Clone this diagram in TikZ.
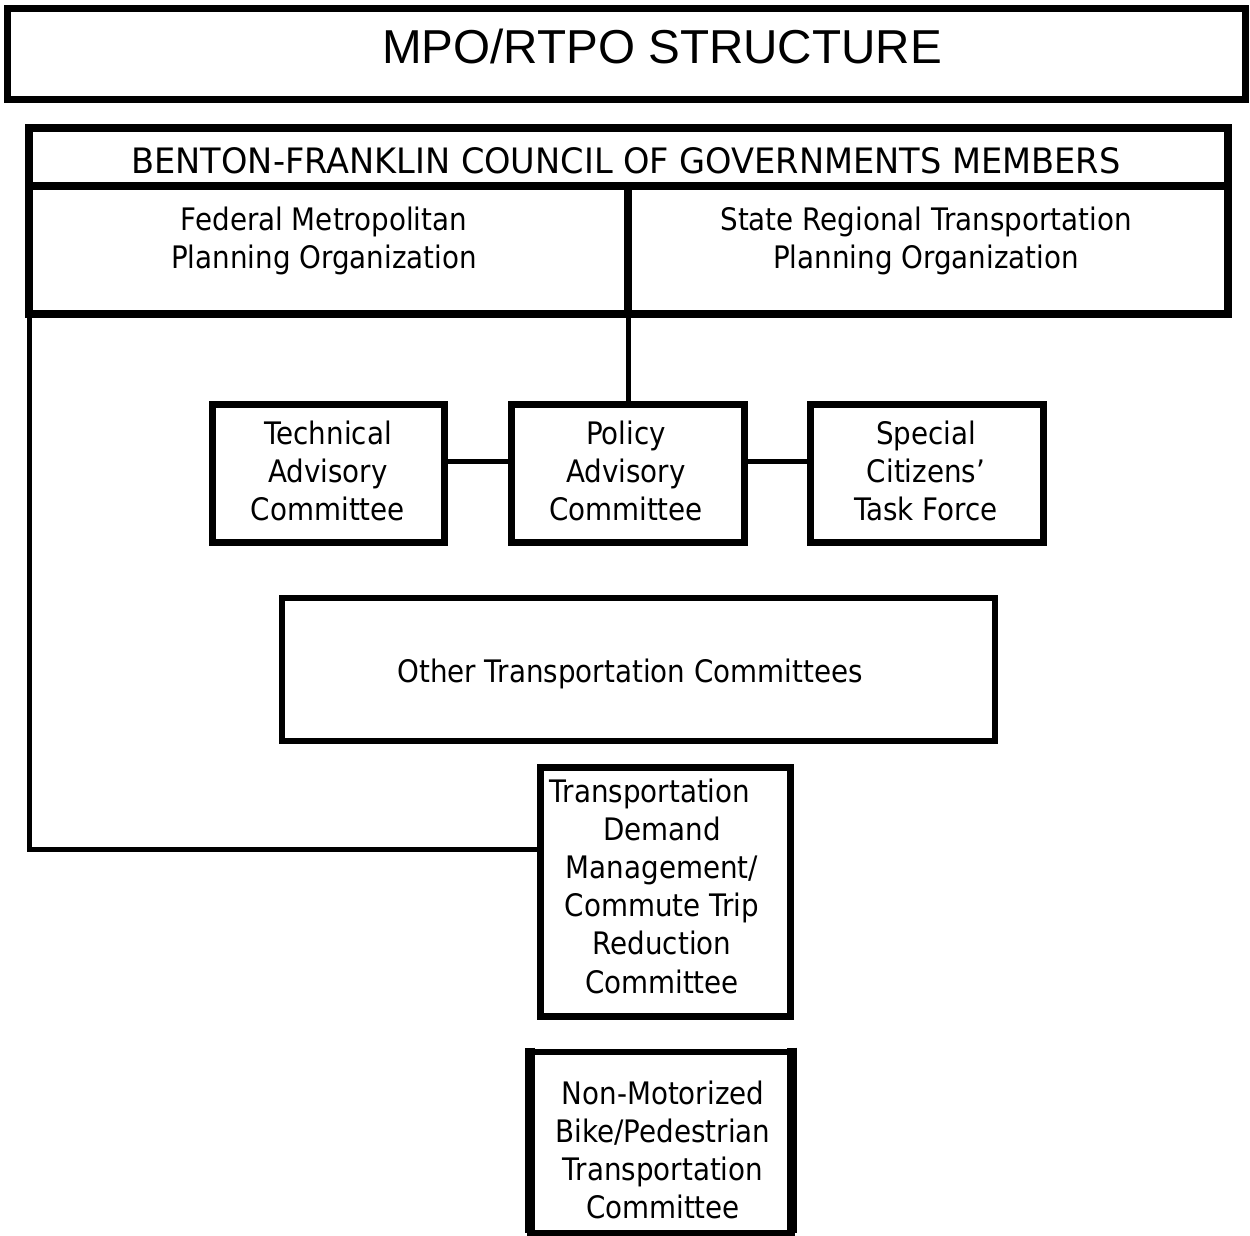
\documentclass[tikz,border=0pt]{standalone}
\usepackage{fontspec}
\setmainfont[FakeStretch=0.895]{DejaVu Sans}
\newfontfamily\hdrfont[FakeStretch=0.96]{DejaVu Sans}
\newfontfamily\titlefont{Liberation Sans}
\begin{document}
\begin{tikzpicture}[x=1pt,y=-1pt,
  box/.style={draw, rectangle, outer sep=0pt, inner sep=0pt},
  txt/.style={align=center, inner sep=0pt, font=\fontsize{31pt}{38pt}\selectfont},
  link/.style={line width=5pt}]
\useasboundingbox (0,0) rectangle (1250,1236);
% title
\node[box, line width=7pt, minimum width=1238pt, minimum height=91pt] (titlebox) at (626.5,54) {};
\node[anchor=base, inner sep=0pt, font=\titlefont\fontsize{47.6pt}{56pt}\selectfont] (titletext) at (662,63.5) {MPO/RTPO STRUCTURE};
% council
\node[box, line width=8pt, minimum width=1199pt, minimum height=58pt] (hdr) at (628.5,157) {};
\node[box, line width=8pt, minimum width=599pt, minimum height=128pt] (fed) at (328.5,250) {};
\node[box, line width=8pt, minimum width=600pt, minimum height=128pt] (state) at (928,250) {};
\node[anchor=base, inner sep=0pt, font=\hdrfont\fontsize{35pt}{42pt}\selectfont] (hdrtext) at (626,173) {BENTON-FRANKLIN COUNCIL OF GOVERNMENTS MEMBERS};
\node[txt] (fedtext) at (324,241) {Federal Metropolitan\\Planning Organization};
\node[txt] (statetext) at (926,241) {State Regional Transportation\\Planning Organization};
% committees
\node[box, line width=7pt, minimum width=232pt, minimum height=138pt] (tech) at (328.5,473.5) {};
\node[box, line width=7pt, minimum width=233pt, minimum height=138pt] (policy) at (628,473.5) {};
\node[box, line width=7pt, minimum width=233pt, minimum height=138pt] (special) at (927,473.5) {};
\node[txt] (techtext) at (328,471) {Technical\\Advisory\\Committee};
\node[txt] (policytext) at (626,471) {Policy\\Advisory\\Committee};
\node[txt] (specialtext) at (926,471) {Special\\Citizens’\\Task Force};
\node[box, line width=6pt, minimum width=713pt, minimum height=143pt] (other) at (638.5,669.5) {};
\node[anchor=base, inner sep=0pt, font=\fontsize{31pt}{38pt}\selectfont] (othertext) at (630,682) {Other Transportation Committees};
\node[box, line width=7pt, minimum width=250pt, minimum height=249pt] (tdm) at (665,892) {};
\node[txt, font=\fontsize{31pt}{38.2pt}\selectfont] (tdmtext) at (662,886) {Transportation\hbox to 24pt{}\\Demand\\Management/\\Commute Trip\\Reduction\\Committee};
\node[box, line width=6pt, minimum width=261.5pt, minimum height=181.5pt] (nm) at (660.75,1142.25) {};
\draw[line width=10pt] ([yshift=4pt]nm.north west) -- (nm.south west);
\draw[line width=10pt] ([yshift=4pt]nm.north east) -- (nm.south east);
\node[txt] (nmtext) at (663,1150) {Non-Motorized\\Bike/Pedestrian\\Transportation\\Committee};
% connectors
\draw[link] (fed.south east) -- (policy.north);
\draw[link] ([yshift=12pt]tech.east) -- ([yshift=12pt]policy.west);
\draw[link] ([yshift=12pt]policy.east) -- ([yshift=12pt]special.west);
\draw[link] (fed.south west) |- ([yshift=43pt]tdm.west);
\end{tikzpicture}
\end{document}
